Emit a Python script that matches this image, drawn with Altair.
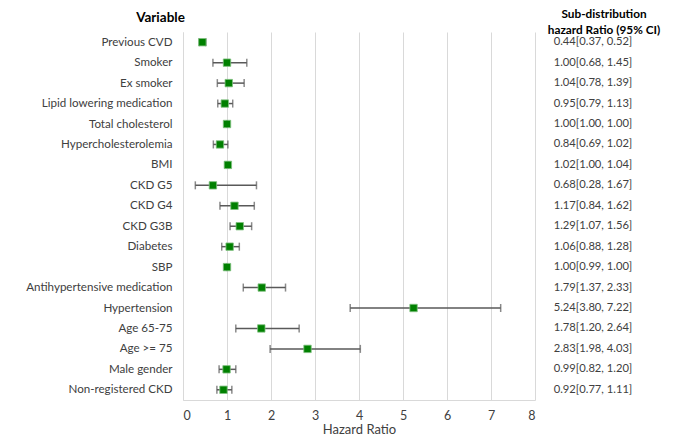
import altair as alt
import pandas as pd

variables = ["Previous CVD", "Smoker", "Ex smoker", "Lipid lowering medication",
             "Total cholesterol", "Hypercholesterolemia", "BMI", "CKD G5", "CKD G4",
             "CKD G3B", "Diabetes", "SBP", "Antihypertensive medication",
             "Hypertension", "Age 65-75", "Age >= 75", "Male gender", "Non-registered CKD"]
hr = [0.44, 1.00, 1.04, 0.95, 1.00, 0.84, 1.02, 0.68, 1.17, 1.29, 1.06, 1.00, 1.79,
      5.24, 1.78, 2.83, 0.99, 0.92]
lo = [0.37, 0.68, 0.78, 0.79, 1.00, 0.69, 1.00, 0.28, 0.84, 1.07, 0.88, 0.99, 1.37,
      3.80, 1.20, 1.98, 0.82, 0.77]
hi = [0.52, 1.45, 1.39, 1.13, 1.00, 1.02, 1.04, 1.67, 1.62, 1.56, 1.28, 1.00, 2.33,
      7.22, 2.64, 4.03, 1.20, 1.11]
x_ticks = [0, 1, 2, 3, 4, 5, 6, 7, 8]
header_lines = ["Sub-distribution", "hazard Ratio (95% CI)"]

df = pd.DataFrame({"var": variables, "hr": hr, "lo": lo, "hi": hi})
df["ci"] = [f"{h:.2f}[{l:.2f}, {u:.2f}]" for h, l, u in zip(hr, lo, hi)]

FONT = "Lato"
GRID = "#d9d9d9"
TXT = "#404040"

y_enc = alt.Y("var:N", sort=variables,
              scale=alt.Scale(type="point", padding=0.5),
              axis=alt.Axis(title="Variable", titleAngle=0, titleX=-23, titleY=-15,
                            titleAlign="center", titleBaseline="middle",
                            titleFontWeight="bold", titleFontSize=13.5, titleColor="#000000",
                            titleFont=FONT,
                            labelFont=FONT, labelFontSize=11.6, labelColor=TXT,
                            labelPadding=11, ticks=False, domain=True,
                            domainColor=GRID, grid=False))

x_scale = alt.Scale(domain=[0, 8], nice=False, zero=True, padding=0)
x_axis = alt.Axis(values=x_ticks, title="Hazard Ratio", grid=True, gridColor=GRID,
                  domainColor=GRID, ticks=False, labelFont=FONT, labelFontSize=12.5,
                  labelColor=TXT, labelPadding=9, titleFont=FONT, titleFontSize=13,
                  titleFontWeight="normal", titleColor=TXT, titlePadding=2,
                  format="d")

base = alt.Chart(df)

rules = base.mark_rule(color="#595959", strokeWidth=1.5).encode(
    x=alt.X("lo:Q", scale=x_scale, axis=x_axis), x2="hi:Q", y=y_enc)
cap_lo = base.mark_tick(color="#595959", orient="vertical", size=8, thickness=1.5).encode(
    x="lo:Q", y=alt.Y("var:N", sort=variables))
cap_hi = base.mark_tick(color="#595959", orient="vertical", size=8, thickness=1.5).encode(
    x="hi:Q", y=alt.Y("var:N", sort=variables))
points = base.mark_point(shape="square", filled=True, color="#008000", size=55,
                         opacity=1, stroke="#7fc07f", strokeWidth=0.8).encode(
    x="hr:Q", y=alt.Y("var:N", sort=variables))
ci_text = base.mark_text(align="center", baseline="middle", font=FONT, fontSize=11.2,
                         color=TXT).encode(
    x=alt.value(410), y=alt.Y("var:N", sort=variables), text="ci:N")

hdr_df = pd.DataFrame({"t": header_lines})
header1 = alt.Chart(hdr_df).transform_filter(alt.datum.t == header_lines[0]).mark_text(
    align="center", baseline="middle", font=FONT, fontSize=11.8, fontWeight="bold",
    color="#000000").encode(x=alt.value(421), y=alt.value(-18), text="t:N")
header2 = alt.Chart(hdr_df).transform_filter(alt.datum.t == header_lines[1]).mark_text(
    align="center", baseline="middle", font=FONT, fontSize=11.8, fontWeight="bold",
    color="#000000").encode(x=alt.value(421), y=alt.value(-2), text="t:N")

chart = alt.layer(rules, cap_lo, cap_hi, points, ci_text, header1, header2).properties(
    width=352, height=368,
    autosize=alt.AutoSizeParams(type="none"),
    padding={"left": 175, "top": 24, "right": 129, "bottom": 37},
    background="white",
).configure_view(stroke=None)

chart.save("out.html", embed_options={"renderer": "svg", "actions": False})
